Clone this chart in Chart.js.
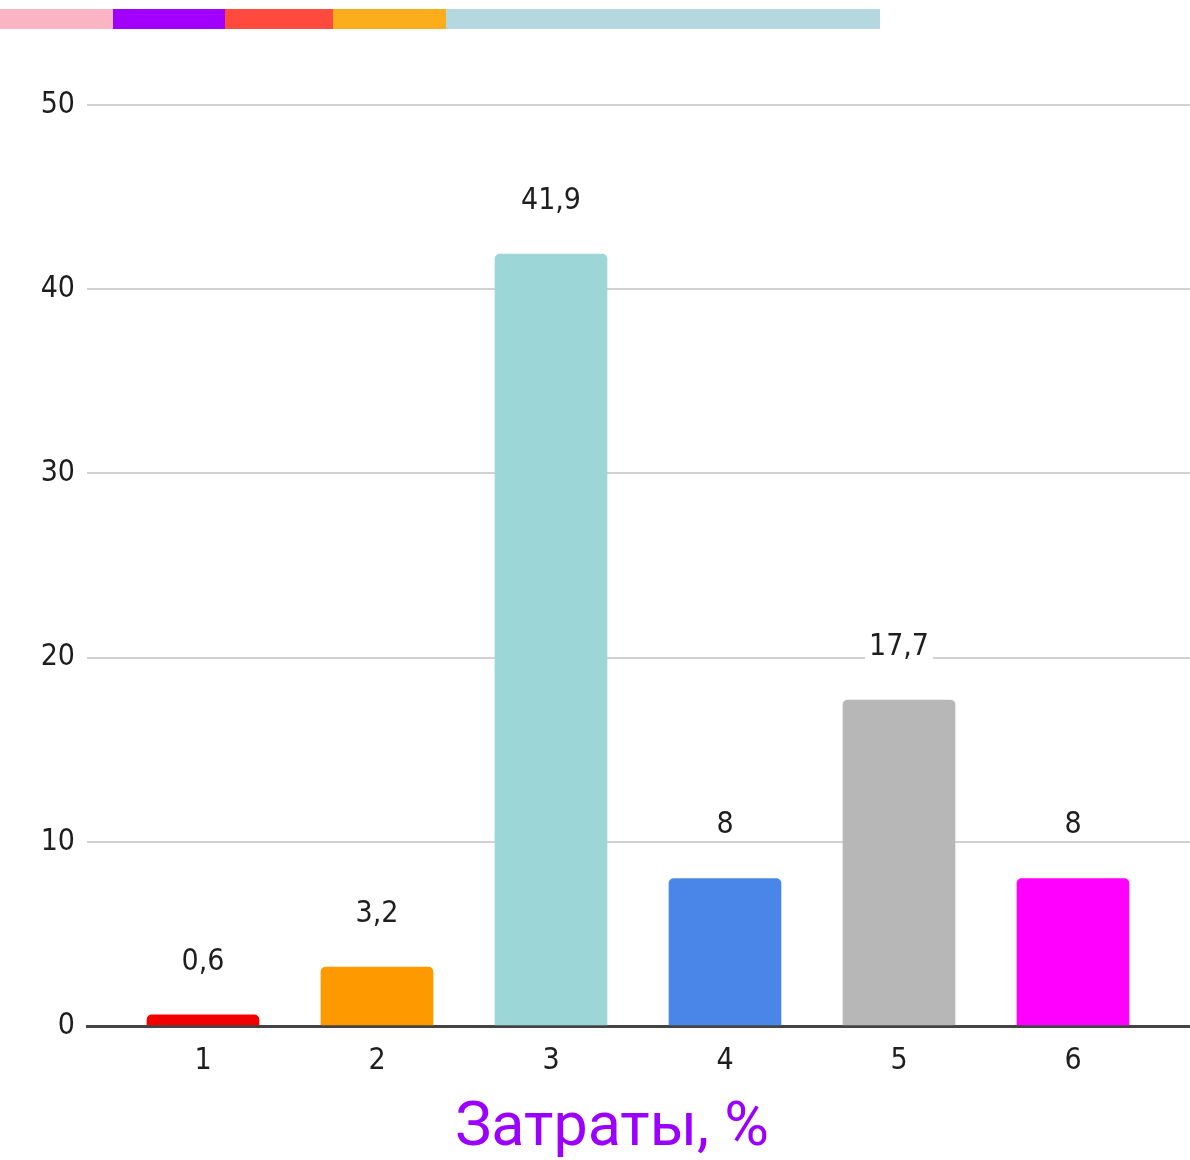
<!DOCTYPE html>
<html>
<head>
<meta charset="utf-8">
<script src="https://cdn.jsdelivr.net/npm/chart.js@4.4.1/dist/chart.umd.min.js"></script>
<style>
  html, body { margin: 0; padding: 0; background: #fff; }
  #wrap { position: relative; width: 1190px; height: 1160px; overflow: hidden; }
  #chart { position: absolute; left: 0; top: 0; }
  #strip { position: absolute; left: 0; top: 9px; height: 20px; display: flex; }
  #strip div { height: 100%; }
  #title { position: absolute; left: 0; top: 1094px; width: 1224px; text-align: center;
           font: 61px/61px Roboto, sans-serif; color: #9B00FF; }
</style>
</head>
<body>
<div id="wrap">
  <canvas id="chart" width="1190" height="1160"></canvas>
  <div id="strip">
    <div style="width:113px;background:#FAB4C3"></div>
    <div style="width:112px;background:#A100FF"></div>
    <div style="width:108px;background:#FF4A3D"></div>
    <div style="width:113px;background:#FCAD1C"></div>
    <div style="width:434px;background:#B5D8E0"></div>
  </div>
  <div id="title">Затраты, %</div>
</div>
<script>
// data
var CATEGORIES = ['1', '2', '3', '4', '5', '6'];
var VALUES = [0.6, 3.2, 41.9, 8, 17.7, 8];
var BAR_COLORS = ['#F20000', '#FF9900', '#9DD6D6', '#4A86E8', '#B7B7B7', '#FF00FF'];
var Y_TICKS = [0, 10, 20, 30, 40, 50];

var FONT = "'DejaVu Sans Condensed', 'DejaVu Sans', sans-serif";
var TEXT = '#1e1e1e';

// value labels above bars, on a white patch that breaks the gridline
var valueLabels = {
  id: 'valueLabels',
  afterDatasetsDraw: function (chart) {
    var ctx = chart.ctx;
    var meta = chart.getDatasetMeta(0);
    ctx.save();
    ctx.font = '30px ' + FONT;
    ctx.textAlign = 'center';
    ctx.textBaseline = 'middle';
    meta.data.forEach(function (bar, i) {
      var txt = String(VALUES[i]).replace('.', ',');
      var y = bar.y - 53;
      var w = ctx.measureText(txt).width;
      ctx.fillStyle = '#fff';
      ctx.fillRect(bar.x - w / 2 - 4, y - 13, w + 8, 25);
      ctx.fillStyle = TEXT;
      ctx.fillText(txt, bar.x, y);
    });
    ctx.restore();
  }
};

new Chart(document.getElementById('chart'), {
  type: 'bar',
  data: {
    datasets: [{
      data: CATEGORIES.map(function (c, i) { return { x: Number(c), y: VALUES[i] }; }),
      backgroundColor: BAR_COLORS,
      barThickness: 112,
      borderRadius: { topLeft: 5, topRight: 5 },
      borderSkipped: 'start'
    }]
  },
  options: {
    responsive: false,
    animation: false,
    devicePixelRatio: 1,
    layout: { padding: { top: 105, bottom: 74, left: 0, right: 0 } },
    plugins: { legend: { display: false }, tooltip: { enabled: false } },
    scales: {
      x: {
        type: 'linear',
        offset: false,
        min: 1 - 116 / 174,
        max: 6 + 117 / 174,
        grid: { display: false, offset: false },
        border: { display: true, color: '#444', width: 3 },
        afterBuildTicks: function (s) {
          s.ticks = CATEGORIES.map(function (c) { return { value: Number(c) }; });
        },
        afterFit: function (s) { s.height = 60; },
        ticks: {
          padding: 9,
          color: TEXT,
          font: { family: FONT, size: 30 },
          callback: function (v) { return String(v); }
        }
      },
      y: {
        min: 0,
        max: 50,
        afterBuildTicks: function (s) {
          s.ticks = Y_TICKS.map(function (v) { return { value: v }; });
        },
        afterFit: function (s) { s.width = 87; },
        border: { display: false },
        grid: { color: '#d2d2d2', lineWidth: 2, drawTicks: false },
        ticks: {
          padding: 12,
          color: TEXT,
          font: { family: FONT, size: 30 }
        }
      }
    }
  },
  plugins: [valueLabels]
});
</script>
</body>
</html>
